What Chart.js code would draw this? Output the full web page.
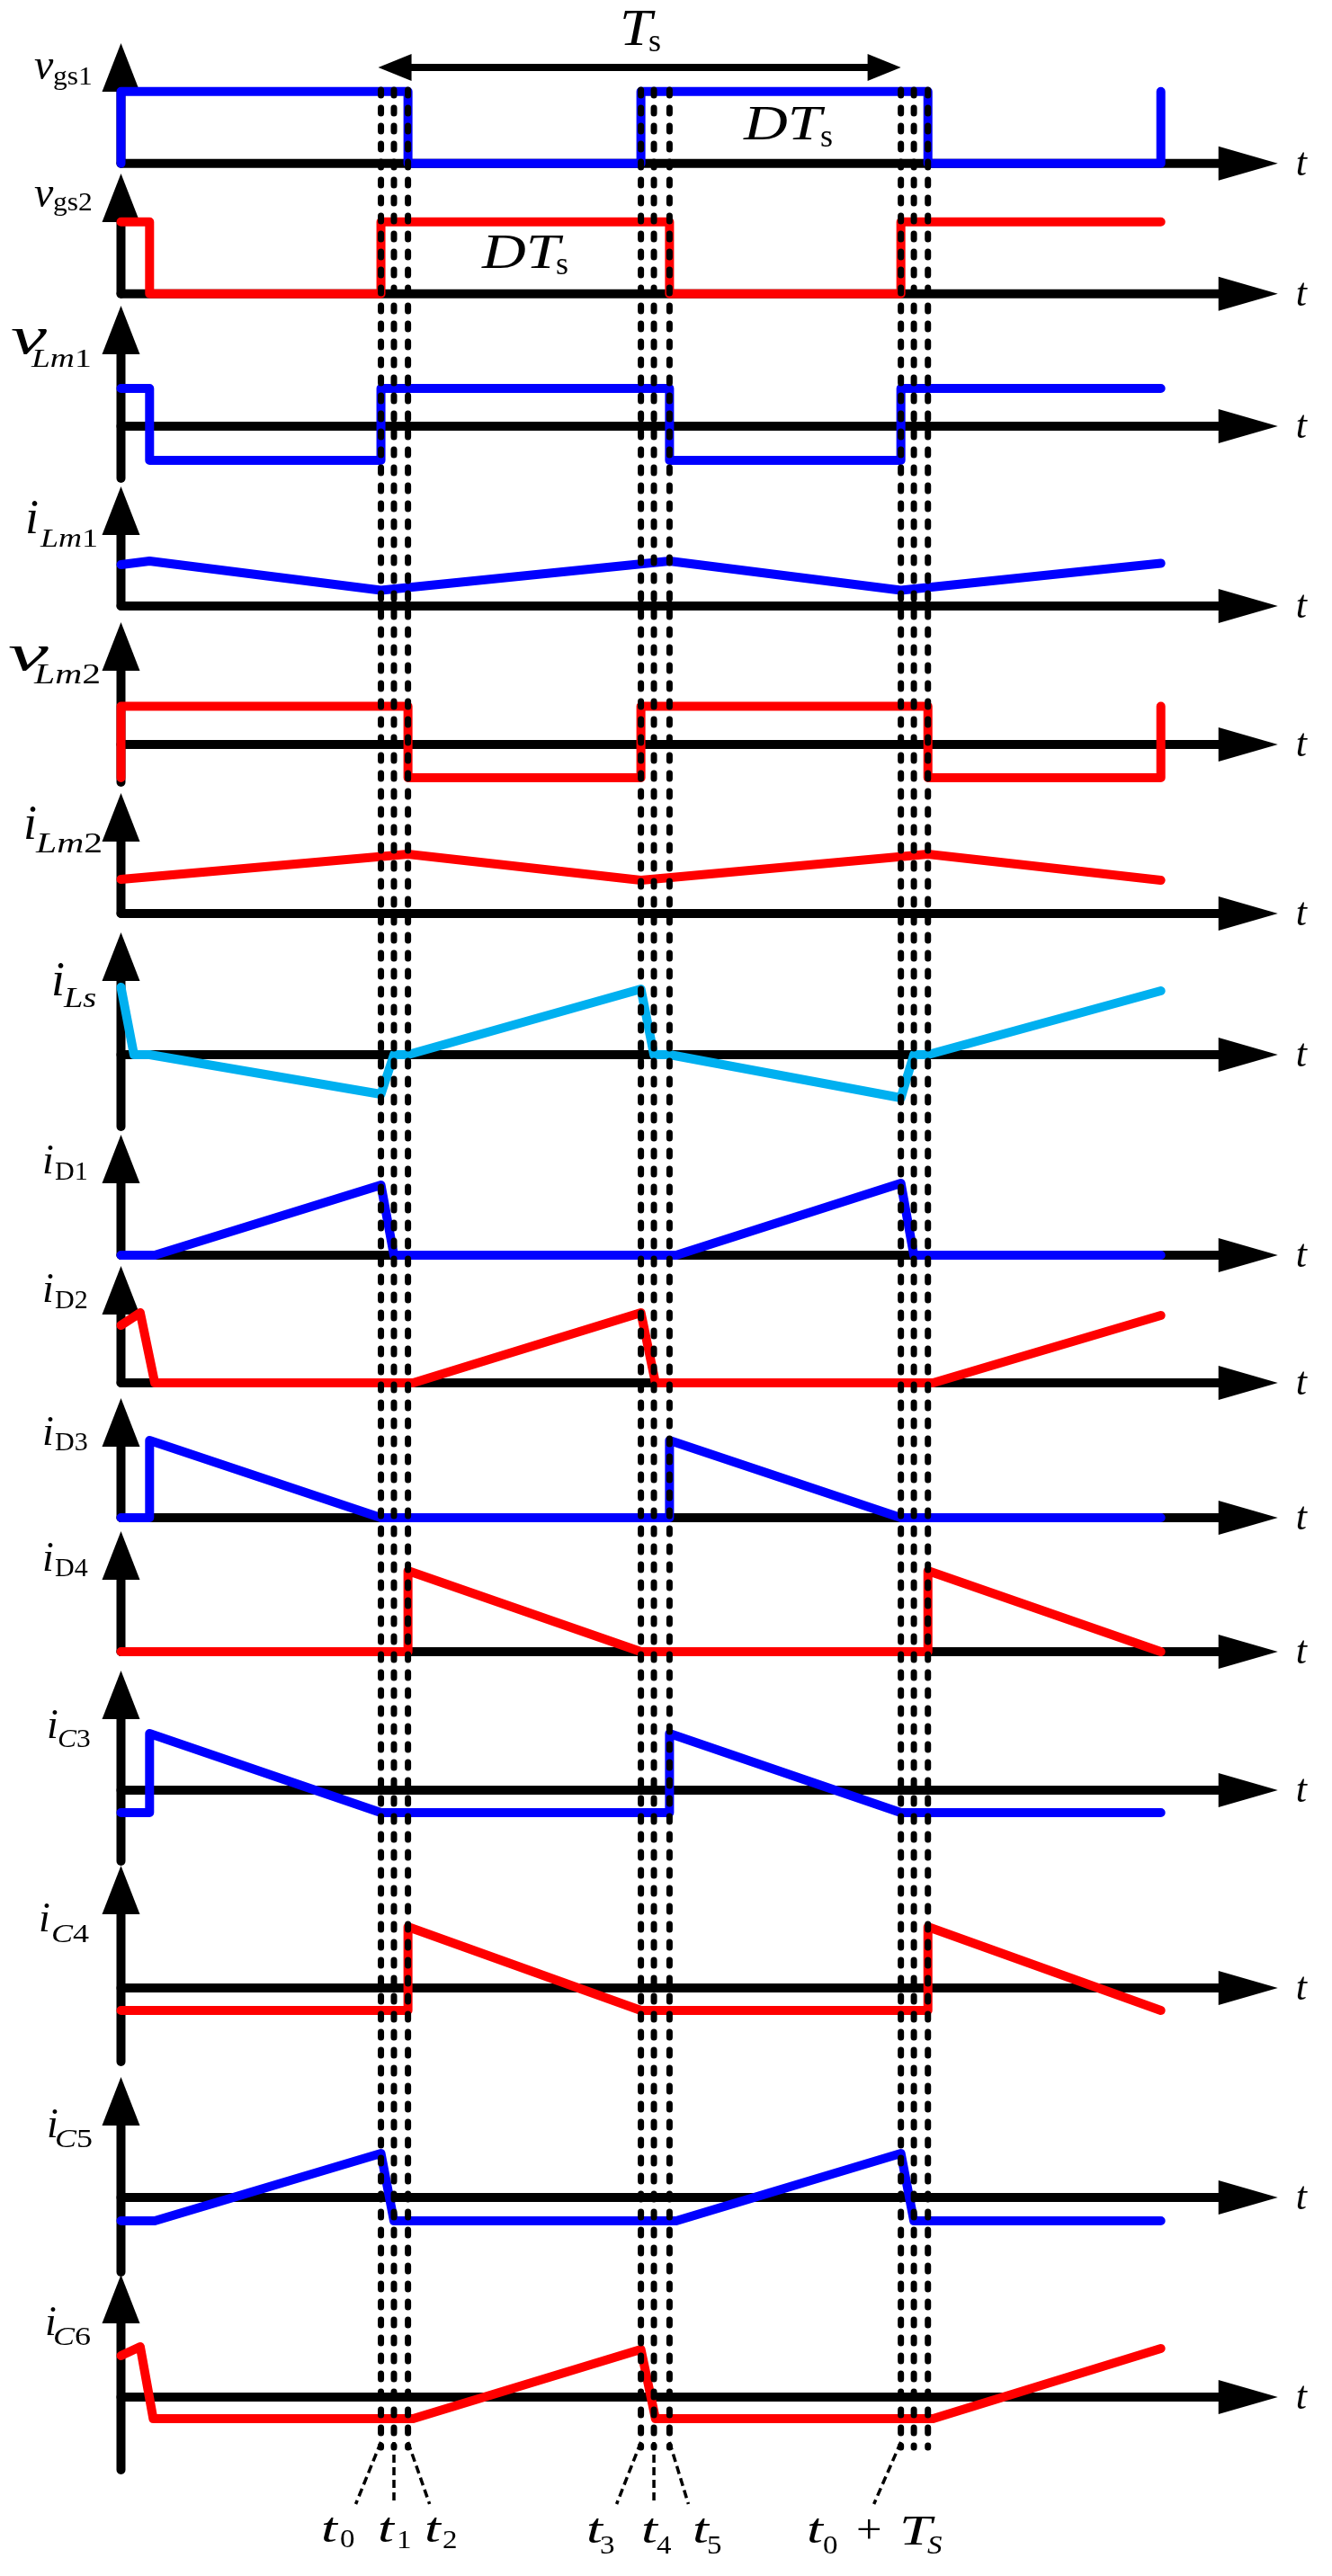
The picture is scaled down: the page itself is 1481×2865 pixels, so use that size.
<!DOCTYPE html>
<html><head><meta charset="utf-8">
<script src="https://cdn.jsdelivr.net/npm/chart.js@4.4.1/dist/chart.umd.min.js"></script>
<style>html,body{margin:0;padding:0;background:#fff;}canvas{display:block;}</style>
</head><body>
<canvas id="c" width="1481" height="2865"></canvas>
<script>
// ---------- DATA (time unit: Ts = 10) ----------
const guideTimes = [5, 5.25, 5.52, 10, 10.25, 10.55, 15, 15.25, 15.52]; // t0,t1,t2,t3,t4,t5,t0+Ts,t1+Ts,t2+Ts
const periodStart = 5, periodEnd = 15;   // Ts arrow: t0 -> t0+Ts

const vgs1T = [0, 0, 5.52, 5.52, 10, 10, 15.52, 15.52, 20, 20];
const vgs1V = [0, 8, 8, 0, 0, 8, 8, 0, 0, 8];
const vgs2T = [0, 0.55, 0.55, 5, 5, 10.55, 10.55, 15, 15, 20];
const vgs2V = [8, 8, 0, 0, 8, 8, 0, 0, 8, 8];
const vLm1T = [0, 0.55, 0.55, 5, 5, 10.55, 10.55, 15, 15, 20];
const vLm1V = [4.2, 4.2, -3.8, -3.8, 4.2, 4.2, -3.8, -3.8, 4.2, 4.2];
const iLm1T = [0, 0.55, 5, 10.55, 15, 20];
const iLm1V = [4.6, 5.0, 1.75, 5.0, 1.75, 4.75];
const vLm2T = [0, 0, 5.52, 5.52, 10, 10, 15.52, 15.52, 20, 20];
const vLm2V = [-3.7, 4.25, 4.25, -3.7, -3.7, 4.25, 4.25, -3.7, -3.7, 4.25];
const iLm2T = [0, 5.52, 10, 15.52, 20];
const iLm2V = [3.8, 6.6, 3.7, 6.6, 3.7];
const iLsT = [0, 0.25, 0.55, 5, 5.25, 5.52, 10, 10.25, 10.55, 15, 15.25, 15.52, 20];
const iLsV = [7.5, 0, 0, -4.4, 0, 0, 7.3, 0, 0, -4.8, 0, 0, 7.1];
const iD1T = [0, 0.65, 5, 5.25, 10.68, 15, 15.25, 20];
const iD1V = [0, 0, 7.8, 0, 0, 8.0, 0, 0];
const iD2T = [0, 0.37, 0.65, 5.62, 10, 10.28, 15.62, 20];
const iD2V = [6.4, 7.8, 0, 0, 7.8, 0, 0, 7.5];
const iD3T = [0, 0.55, 0.55, 5, 10.55, 10.55, 15, 20];
const iD3V = [0, 0, 8.6, 0, 0, 8.6, 0, 0];
const iD4T = [0, 5.52, 5.52, 10, 15.52, 15.52, 20];
const iD4V = [0, 0, 9.0, 0, 0, 9.0, 0];
const iC3T = [0, 0.55, 0.55, 5, 10.55, 10.55, 15, 20];
const iC3V = [-2.5, -2.5, 6.3, -2.5, -2.5, 6.3, -2.5, -2.5];
const iC4T = [0, 5.52, 5.52, 10, 15.52, 15.52, 20];
const iC4V = [-2.5, -2.5, 6.8, -2.5, -2.5, 6.8, -2.5];
const iC5T = [0, 0.65, 5, 5.25, 10.68, 15, 15.25, 20];
const iC5V = [-2.6, -2.6, 4.9, -2.6, -2.6, 4.9, -2.6, -2.6];
const iC6T = [0, 0.37, 0.62, 5.62, 10, 10.28, 15.62, 20];
const iC6V = [4.6, 5.6, -2.4, -2.4, 5.3, -2.4, -2.4, 5.4];

// ---------- LAYOUT / STYLE ----------
const BLUE = '#0000FF', RED = '#FF0000', CYAN = '#00B0F0';
const GAIN = 10;            // px per value unit
const AXIS_END = 22.25;     // time at arrow tip of each t axis
const FONT = '"Liberation Serif", "Times New Roman", serif';

// panel layout: axis baseline, arrow tip, lower end of vertical axis (all px in y-scale units)
const panels = [
  {T: vgs1T, V: vgs1V, c: BLUE, base: 181.7, tip: 48,   bot: 181.7,
   lab: [{x:38,b:88,sx:1,s:[['v',48,1]]},{x:59,b:94,sx:1.05,s:[['gs1',30,0]]}]},
  {T: vgs2T, V: vgs2V, c: RED,  base: 326.7, tip: 193,  bot: 326.7,
   lab: [{x:38,b:230,sx:1,s:[['v',48,1]]},{x:59,b:234,sx:1.05,s:[['gs2',30,0]]}]},
  {T: vLm1T, V: vLm1V, c: BLUE, base: 474,   tip: 340,  bot: 532,
   lab: [{x:12,b:393,sx:1.5,s:[['v',60,1]]},{x:35,b:408,sx:1.25,s:[['Lm',30,1],['1',30,0]]}]},
  {T: iLm1T, V: iLm1V, c: BLUE, base: 674,   tip: 541,  bot: 674,
   lab: [{x:28,b:593,sx:1,s:[['i',54,1]]},{x:45,b:608,sx:1.2,s:[['Lm',30,1],['1',30,0]]}]},
  {T: vLm2T, V: vLm2V, c: RED,  base: 828,   tip: 692,  bot: 870,
   lab: [{x:9,b:745,sx:1.8,s:[['v',56,1]]},{x:38,b:760,sx:1.3,s:[['Lm',32,1],['2',32,0]]}]},
  {T: iLm2T, V: iLm2V, c: RED,  base: 1016,  tip: 882,  bot: 1016,
   lab: [{x:26,b:933,sx:1,s:[['i',54,1]]},{x:40,b:948,sx:1.3,s:[['Lm',32,1],['2',32,0]]}]},
  {T: iLsT,  V: iLsV,  c: CYAN, base: 1173,  tip: 1037, bot: 1253,
   lab: [{x:57,b:1107,sx:1,s:[['i',54,1]]},{x:71,b:1120,sx:1.2,s:[['Ls',32,1]]}]},
  {T: iD1T,  V: iD1V,  c: BLUE, base: 1396,  tip: 1262, bot: 1396,
   lab: [{x:47,b:1305,sx:1,s:[['i',46,1]]},{x:61,b:1312,sx:1,s:[['D1',30,0]]}]},
  {T: iD2T,  V: iD2V,  c: RED,  base: 1538,  tip: 1408, bot: 1538,
   lab: [{x:47,b:1448,sx:1,s:[['i',46,1]]},{x:61,b:1455,sx:1,s:[['D2',30,0]]}]},
  {T: iD3T,  V: iD3V,  c: BLUE, base: 1688,  tip: 1555, bot: 1688,
   lab: [{x:47,b:1607,sx:1,s:[['i',46,1]]},{x:61,b:1613,sx:1,s:[['D3',30,0]]}]},
  {T: iD4T,  V: iD4V,  c: RED,  base: 1837,  tip: 1703, bot: 1837,
   lab: [{x:47,b:1747,sx:1,s:[['i',46,1]]},{x:61,b:1753,sx:1,s:[['D4',30,0]]}]},
  {T: iC3T,  V: iC3V,  c: BLUE, base: 1991,  tip: 1858, bot: 2070,
   lab: [{x:52,b:1933,sx:1,s:[['i',46,1]]},{x:64,b:1943,sx:1.05,s:[['C',30,1],['3',30,0]]}]},
  {T: iC4T,  V: iC4V,  c: RED,  base: 2211,  tip: 2075, bot: 2293,
   lab: [{x:43,b:2148,sx:1,s:[['i',46,1]]},{x:57,b:2160,sx:1.2,s:[['C',30,1],['4',30,0]]}]},
  {T: iC5T,  V: iC5V,  c: BLUE, base: 2444,  tip: 2310, bot: 2527,
   lab: [{x:52,b:2377,sx:1,s:[['i',46,1]]},{x:61,b:2388,sx:1.2,s:[['C',30,1],['5',30,0]]}]},
  {T: iC6T,  V: iC6V,  c: RED,  base: 2666,  tip: 2530, bot: 2747,
   lab: [{x:50,b:2597,sx:1,s:[['i',46,1]]},{x:59,b:2608,sx:1.2,s:[['C',30,1],['6',30,0]]}]}
];

const GUIDE_TOP = 100, GUIDE_BOTTOM = 2722;
// fan-out lines below the guides: guide index, horizontal shift of lower end (px)
const fans = [[0,-28],[1,0],[2,24],[3,-27],[4,0],[5,21],[6,-30]];
const FAN_TOP = 2716, FAN_BOTTOM = 2785;

const topTexts = [
  {x:689,b:50,sx:1.15,s:[['T',56,1]]},{x:721,b:57,sx:1,s:[['s',36,0]]},
  {x:827,b:155,sx:1.25,s:[['DT',54,1]]},{x:912,b:163,sx:1,s:[['s',36,0]]},
  {x:536,b:298,sx:1.25,s:[['DT',54,1]]},{x:618,b:305,sx:1,s:[['s',36,0]]}
];
const bottomTexts = [
  {x:357,b:2827,sx:1.4,s:[['t',46,1]]},{x:378,b:2833,sx:1.1,s:[['0',30,0]]},
  {x:420,b:2827,sx:1.4,s:[['t',46,1]]},{x:441,b:2834,sx:1.1,s:[['1',30,0]]},
  {x:472,b:2827,sx:1.4,s:[['t',46,1]]},{x:492,b:2834,sx:1.1,s:[['2',30,0]]},
  {x:652,b:2828,sx:1.4,s:[['t',46,1]]},{x:667,b:2840,sx:1.1,s:[['3',30,0]]},
  {x:713,b:2828,sx:1.4,s:[['t',46,1]]},{x:730,b:2840,sx:1.1,s:[['4',30,0]]},
  {x:770,b:2828,sx:1.4,s:[['t',46,1]]},{x:786,b:2840,sx:1.1,s:[['5',30,0]]},
  {x:897,b:2828,sx:1.4,s:[['t',46,1]]},{x:915,b:2840,sx:1.1,s:[['0',30,0]]},
  {x:952,b:2828,sx:1.1,s:[['+',46,0]]},{x:1000,b:2830,sx:1.4,s:[['T',46,1]]},
  {x:1031,b:2840,sx:1.1,s:[['S',30,1]]}
];

// ---------- CHART ----------
const datasets = [];
panels.forEach(p => {
  datasets.push({
    data: p.T.map((t, i) => ({x: t, y: p.base - p.V[i] * GAIN})),
    borderColor: p.c, borderWidth: 10, borderCapStyle: 'round', borderJoinStyle: 'round',
    pointRadius: 0, tension: 0, fill: false, order: 1
  });
});
guideTimes.forEach(t => {
  datasets.push({
    data: [{x: t, y: GUIDE_TOP}, {x: t, y: GUIDE_BOTTOM}],
    borderColor: '#000', borderWidth: 7, borderDash: [6, 14], borderCapStyle: 'round',
    pointRadius: 0, fill: false, order: 0
  });
});

function drawGroup(ctx, g) {
  ctx.save();
  ctx.translate(g.x, g.b);
  ctx.scale(g.sx || 1, 1);
  let cx = 0;
  g.s.forEach(seg => {
    ctx.font = (seg[2] ? 'italic ' : '') + seg[1] + 'px ' + FONT;
    ctx.fillText(seg[0], cx, seg[3] || 0);
    cx += ctx.measureText(seg[0]).width;
  });
  ctx.restore();
}
function tri(ctx, ax, ay, bx, by, cx, cy) {
  ctx.beginPath(); ctx.moveTo(ax, ay); ctx.lineTo(bx, by); ctx.lineTo(cx, cy); ctx.closePath(); ctx.fill();
}

const deco = {
  id: 'deco',
  beforeDatasetsDraw(chart) {
    const ctx = chart.ctx, X = chart.scales.x, Y = chart.scales.y;
    ctx.save();
    ctx.fillStyle = '#000'; ctx.strokeStyle = '#000'; ctx.lineWidth = 10; ctx.lineCap = 'round';
    const x0 = X.getPixelForValue(0), xe = X.getPixelForValue(AXIS_END);
    panels.forEach(p => {
      const yb = Y.getPixelForValue(p.base), yt = Y.getPixelForValue(p.tip), yl = Y.getPixelForValue(p.bot);
      ctx.beginPath(); ctx.moveTo(x0, yl); ctx.lineTo(x0, yt + 50); ctx.stroke();
      tri(ctx, x0, yt, x0 - 21, yt + 54, x0 + 21, yt + 54);
      ctx.beginPath(); ctx.moveTo(x0, yb); ctx.lineTo(xe - 60, yb); ctx.stroke();
      tri(ctx, xe, yb, xe - 66, yb - 19, xe - 66, yb + 19);
    });
    ctx.restore();
  },
  afterDatasetsDraw(chart) {
    const ctx = chart.ctx, X = chart.scales.x, Y = chart.scales.y;
    ctx.save();
    ctx.fillStyle = '#000'; ctx.strokeStyle = '#000';
    ctx.textAlign = 'left'; ctx.textBaseline = 'alphabetic';
    // t labels at axes
    const xe = X.getPixelForValue(AXIS_END);
    panels.forEach(p => {
      drawGroup(ctx, {x: xe + 20, b: Y.getPixelForValue(p.base) + 13, sx: 1, s: [['t', 44, 1]]});
      p.lab.forEach(g => drawGroup(ctx, g));
    });
    topTexts.forEach(g => drawGroup(ctx, g));
    bottomTexts.forEach(g => drawGroup(ctx, g));
    // Ts double arrow
    const ay = Y.getPixelForValue(75);
    const xa = X.getPixelForValue(periodStart), xb = X.getPixelForValue(periodEnd);
    ctx.lineWidth = 8; ctx.lineCap = 'butt';
    ctx.beginPath(); ctx.moveTo(xa + 30, ay); ctx.lineTo(xb - 30, ay); ctx.stroke();
    tri(ctx, xa - 3, ay, xa + 34, ay - 15, xa + 34, ay + 15);
    tri(ctx, xb, ay, xb - 37, ay - 15, xb - 37, ay + 15);
    // fan-out lines
    ctx.lineWidth = 3.5; ctx.setLineDash([9, 5]);
    fans.forEach(f => {
      const gx = X.getPixelForValue(guideTimes[f[0]]);
      ctx.beginPath();
      ctx.moveTo(gx, Y.getPixelForValue(FAN_TOP));
      ctx.lineTo(gx + f[1], Y.getPixelForValue(FAN_BOTTOM));
      ctx.stroke();
    });
    ctx.restore();
  }
};

new Chart(document.getElementById('c'), {
  type: 'line',
  data: {datasets},
  options: {
    responsive: false, devicePixelRatio: 1, animation: false, events: [],
    layout: {padding: 0},
    plugins: {legend: {display: false}, tooltip: {enabled: false}},
    scales: {
      x: {type: 'linear', min: -2.3266, max: 23.2918, bounds: 'data', display: false},
      y: {type: 'linear', min: 0, max: 2865, reverse: true, bounds: 'data', display: false}
    }
  },
  plugins: [deco]
});
</script>
</body></html>
